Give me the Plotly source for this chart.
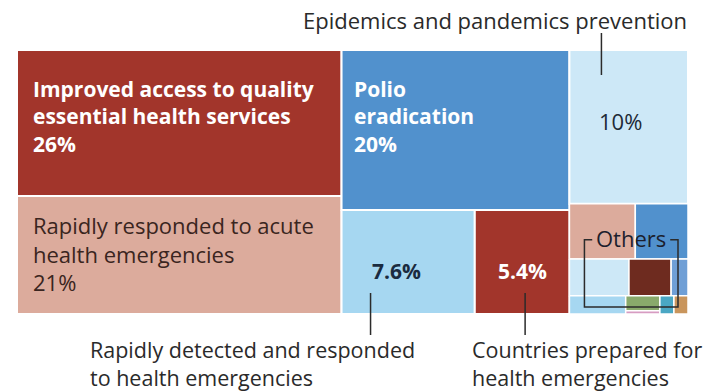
import plotly.graph_objects as go

# Budget shares by outcome (%)
outcomes = [
    "Improved access to quality essential health services",
    "Rapidly responded to acute health emergencies",
    "Polio eradication",
    "Rapidly detected and responded to health emergencies",
    "Countries prepared for health emergencies",
    "Epidemics and pandemics prevention",
]
shares = [26, 21, 20, 7.6, 5.4, 10]
outcome_colors = ["#a2352b", "#dcab9c", "#5191cd", "#a6d7f1", "#a2352b", "#cde8f7"]

# Smaller outcomes grouped as "Others" (%)
other_shares = [2.0, 1.6, 1.2, 0.85, 0.34, 0.56, 0.28, 0.06, 0.14, 0.14]
other_colors = ["#dcab9c", "#5191cd", "#cde8f7", "#6e2b1f", "#6f9fd6",
                "#a6d7f1", "#89a96b", "#d79cc2", "#4aa7c4", "#c9955c"]

# Slice-and-dice tiling: "h" splits side by side, "v" stacks top to bottom
main_tree = ("h", [("v", [0, 1]), ("v", [2, ("h", [3, 4])]), ("v", [5, "O"])])
others_tree = ("v", [("h", [0, 1]), ("h", [2, 3, 4]), ("h", [5, ("v", [6, 7]), 8, 9])])


def weight(node, vals):
    if isinstance(node, tuple):
        return sum(weight(k, vals) for k in node[1])
    return vals[node]


def tile(node, vals, box, out):
    x0, y0, x1, y1 = box
    if not isinstance(node, tuple):
        out[node] = box
        return
    d, kids = node
    tot = weight(node, vals)
    pos = x0 if d == "h" else y0
    for k in kids:
        f = weight(k, vals) / tot
        if d == "h":
            nb = (pos, y0, pos + f * (x1 - x0), y1)
            pos = nb[2]
        else:
            nb = (x0, pos, x1, pos + f * (y1 - y0))
            pos = nb[3]
        tile(k, vals, nb, out)


main_vals = {i: v for i, v in enumerate(shares)}
main_vals["O"] = sum(other_shares)
total = weight(main_tree, main_vals)

boxes = {}
tile(main_tree, main_vals, (0, 0, total, 1), boxes)
other_boxes = {}
tile(others_tree, {i: v for i, v in enumerate(other_shares)}, boxes["O"], other_boxes)

# Canvas and the pixel frame the treemap occupies inside it
W, H = 707, 391
L, R, T, B = 17, 19, 50, 77
PW, PH = W - L - R, H - T - B
px_x = total / PW   # data units per pixel
px_y = 1.0 / PH

fig = go.Figure()


def rect(box, color, name, lw):
    x0, y0, x1, y1 = box
    fig.add_trace(go.Scatter(
        x=[x0, x1, x1, x0, x0], y=[y0, y0, y1, y1, y0],
        fill="toself", fillcolor=color, mode="lines",
        line=dict(color="white", width=lw),
        hoverinfo="text", text=name, showlegend=False))


for i, name in enumerate(outcomes):
    rect(boxes[i], outcome_colors[i], f"{name}: {shares[i]}%", 2)
for i, v in enumerate(other_shares):
    rect(other_boxes[i], other_colors[i], f"Other: {v}%", 1.5)

FONT = "Open Sans"
DARK = "#2a2a2a"
ann = []


def label(x, y, text, xa="left", ya="top", dx=0, dy=0, size=22, color=DARK,
          bold=False, align="left"):
    ann.append(dict(x=x, y=y, xref="x", yref="y", text=text, showarrow=False,
                    xanchor=xa, yanchor=ya, xshift=dx, yshift=dy, align=align,
                    font=dict(family=FONT, size=size, color=color,
                              weight="bold" if bold else "normal")))


def cx(b):
    return (b[0] + b[2]) / 2


def cy(b):
    return (b[1] + b[3]) / 2


b = boxes
label(b[0][0], b[0][1], "Improved access to quality<br>essential health services<br>26%",
      dx=14, dy=-23, size=21, color="white", bold=True)
label(b[1][0], b[1][1], "Rapidly responded to acute<br>health emergencies<br>21%",
      dx=14, dy=-12, color="#3a2520")
label(b[2][0], b[2][1], "Polio<br>eradication<br>20%",
      dx=10, dy=-23, size=21, color="white", bold=True)
label(cx(b[5]), cy(b[5]), "10%", xa="center", ya="middle", dx=-8, dy=6,
      color="#1e2a36")
label(b[3][0], cy(b[3]), "7.6%", xa="left", ya="middle", dx=28, dy=-9,
      size=21, color="#1a2b40", bold=True)
label(cx(b[4]), cy(b[4]), "5.4%", xa="center", ya="middle", dy=-9,
      size=21, color="white", bold=True)

# Leader lines and outside labels
lead_76 = b[3][0] + 29 * px_x
lead_54 = cx(b[4]) + 3 * px_x
lead_ep = b[5][0] + 32 * px_x
lines_x, lines_y = [], []
for lx in (lead_76, lead_54):
    lines_x += [lx, lx, None]
    lines_y += [1 - 21 * px_y, 1 + 21 * px_y, None]
lines_x += [lead_ep, lead_ep, None]
lines_y += [-17 * px_y, 25 * px_y, None]

label(lead_76, 1, "Rapidly detected and responded<br>to health emergencies",
      dx=-283, dy=-19, size=21.5)
label(lead_54, 1, "Countries prepared for<br>health emergencies",
      dx=-55, dy=-19, size=21.5)
label(total, 0, "Epidemics and pandemics prevention", xa="right", ya="middle",
      dx=1, dy=30)

# Bracket around the grouped outcomes
ob = boxes["O"]
bl, br = ob[0] + 15 * px_x, ob[2] - 10 * px_x
bt, bb = ob[1] + 36 * px_y, ob[3] - 7 * px_y
mid = (bl + br) / 2
gap = 39 * px_x
lines_x += [mid - gap, bl, bl, br, br, mid + gap, None]
lines_y += [bt, bt, bb, bb, bt, bt, None]
label(mid, bt, "Others", xa="center", ya="middle", dy=2, color="#1c1f2e")

fig.add_trace(go.Scatter(x=lines_x, y=lines_y, mode="lines",
                         line=dict(color="#2b2b2b", width=1.5),
                         hoverinfo="skip", showlegend=False))

fig.update_layout(
    width=W, height=H, margin=dict(l=0, r=0, t=0, b=0),
    paper_bgcolor="white", plot_bgcolor="white",
    xaxis=dict(range=[-L * px_x, total + R * px_x], visible=False, fixedrange=True),
    yaxis=dict(range=[1 + B * px_y, -T * px_y], visible=False, fixedrange=True),
    annotations=ann,
    font=dict(family=FONT),
)

fig.write_html("out.html")
